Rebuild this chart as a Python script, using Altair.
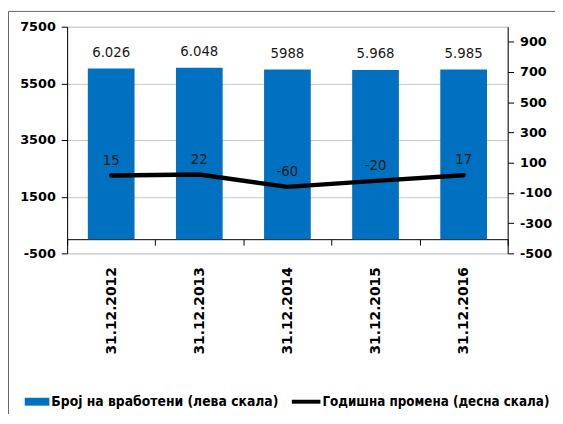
import altair as alt
import pandas as pd

cats = ["31.12.2012", "31.12.2013", "31.12.2014", "31.12.2015", "31.12.2016"]
employees = [6026, 6048, 5988, 5968, 5985]
employee_labels = ["6.026", "6.048", "5988", "5.968", "5.985"]
change = [15, 22, -60, -20, 17]
change_labels = ["15", "22", "-60", "-20", "17"]
left_ticks = [-500, 1500, 3500, 5500, 7500]
right_ticks = [-500, -300, -100, 100, 300, 500, 700, 900]
s_bar = "Број на вработени (лева скала)"
s_line = "Годишна промена (десна скала)"

df = pd.DataFrame({
    "cat": cats,
    "emp": employees,
    "emp_label": employee_labels,
    "chg": change,
    "chg_label": change_labels,
    "s1": [s_bar] * 5,
    "s2": [s_line] * 5,
})

AXF = "DejaVu Sans"
NARROW = "DejaVu Sans Condensed"

x = alt.X(
    "cat:N", sort=cats, title=None,
    scale=alt.Scale(paddingInner=0, paddingOuter=0),
    axis=alt.Axis(
        labelAngle=270, labelFont=AXF, labelFontWeight="bold", labelFontSize=14,
        labelColor="black", domainColor="black", tickColor="black", tickSize=6,
        tickBand="extent", offset=-14.4, labelPadding=22, grid=False,
    ),
)

y_left = alt.Y(
    "emp:Q", title=None,
    scale=alt.Scale(domain=[-500, 7500], nice=False, zero=False),
    axis=alt.Axis(
        values=left_ticks, grid=True, gridColor="#c4c4c4", gridWidth=1,
        labelExpr="toString(datum.value)",
        labelFont=AXF, labelFontWeight="bold", labelFontSize=13, labelColor="black",
        domainColor="black", tickColor="black", tickSize=6, labelPadding=6,
    ),
)

frame = alt.Chart(pd.DataFrame({"f": [0]})).mark_rect(
    fill=None, stroke="#666666", strokeWidth=1
).encode(
    x=alt.value(-59.5), x2=alt.value(600), y=alt.value(-15.5), y2=alt.value(500)
)

bars = alt.Chart(df).mark_bar(width=alt.RelativeBandSize(0.53)).encode(
    x=x,
    y=y_left,
    y2=alt.datum(0),
    color=alt.Color(
        "s1:N", title=None,
        scale=alt.Scale(domain=[s_bar], range=["#0070C0"]),
        legend=alt.Legend(
            orient="none", legendX=-43, legendY=368, padding=0,
            symbolType="M-1,-0.32H1V0.32H-1Z", symbolSize=625, symbolStrokeWidth=0,
            labelFont=NARROW, labelFontSize=14, labelFontWeight="bold",
            labelColor="black", labelOffset=2, labelLimit=400,
        ),
    ),
)

bar_text = alt.Chart(df).mark_text(
    font=NARROW, fontSize=15, color="#1a1a1a", baseline="alphabetic", dy=-12
).encode(x=x, y=y_left, text="emp_label:N")

left = alt.layer(frame, bars, bar_text)

y_right = alt.Y(
    "chg:Q", title=None,
    scale=alt.Scale(domain=[-500, 1000], nice=False, zero=False),
    axis=alt.Axis(
        orient="right", values=right_ticks, grid=False,
        labelExpr="toString(datum.value)",
        labelFont=AXF, labelFontWeight="bold", labelFontSize=13, labelColor="black",
        domainColor="black", tickColor="black", tickSize=6, labelPadding=6,
    ),
)

line = alt.Chart(df).mark_line(strokeWidth=4.5, strokeCap="round", strokeJoin="round").encode(
    x=x,
    y=y_right,
    stroke=alt.Stroke(
        "s2:N", title=None,
        scale=alt.Scale(domain=[s_line], range=["black"]),
        legend=alt.Legend(
            orient="none", legendX=226, legendY=364, padding=0,
            symbolType="stroke", symbolSize=841, symbolStrokeWidth=4,
            labelFont=NARROW, labelFontSize=13.5, labelFontWeight="bold",
            labelColor="black", labelOffset=0, labelLimit=400,
        ),
    ),
)

line_text = alt.Chart(df).mark_text(
    font=NARROW, fontSize=15, color="#1a1a1a", baseline="alphabetic", dy=-11
).encode(x=x, y=y_right, text="chg_label:N")

right = alt.layer(line, line_text)

chart = alt.layer(left, right).resolve_scale(y="independent", color="independent").properties(
    width=447, height=230,
    autosize=alt.AutoSizeParams(type="none"),
    padding={"left": 60, "top": 16, "right": 48, "bottom": 160},
).configure_view(stroke="black", strokeWidth=1).configure(background="white")

chart.save("out.html", embed_options={"renderer": "svg", "actions": False})
